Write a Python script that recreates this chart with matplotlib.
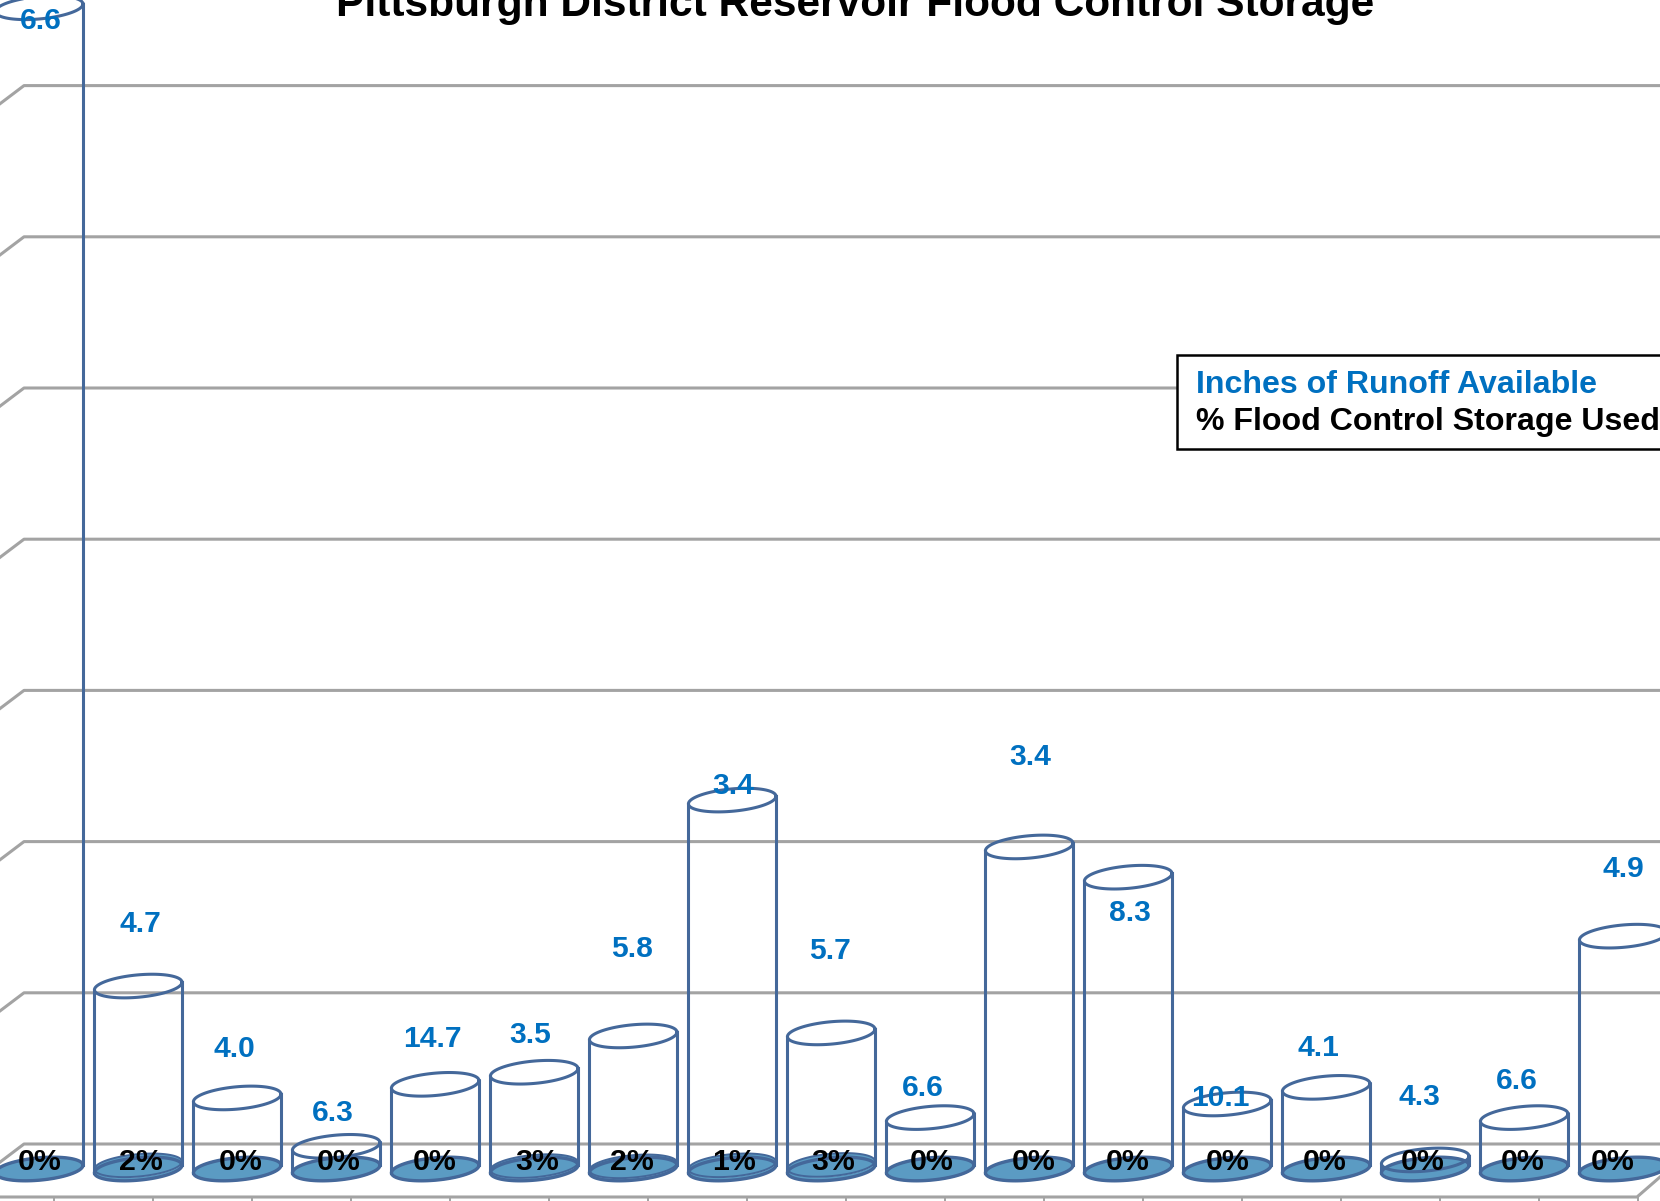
import numpy as np
import matplotlib.pyplot as plt
from matplotlib.patches import Rectangle

plt.rcParams['font.family'] = ['Liberation Sans', 'DejaVu Sans']

reservoirs = np.arange(1, 18)
# Storage capacity, in gridline steps (the axis labels are cut off in the picture)
capacity = [7.68, 1.21, 0.47, 0.15, 0.56, 0.64, 0.88, 2.44, 0.90, 0.34, 2.13, 1.93, 0.43, 0.54, 0.06, 0.34, 1.54]
# Percent of flood control storage used
pct_used = [0, 2, 0, 0, 0, 3, 2, 1, 3, 0, 0, 0, 0, 0, 0, 0, 0]
# Inches of runoff available
runoff = ['6.6', '4.7', '4.0', '6.3', '14.7', '3.5', '5.8', '3.4', '5.7', '6.6', '3.4', '8.3', '10.1', '4.1', '4.3', '6.6', '4.9']
grid_levels = np.arange(0, 8)

# Where the runoff labels were placed by hand on the original, in shown pixels
runoff_x = [39, 133, 221, 314, 408, 501, 597, 693, 784, 872, 973, 1067, 1153, 1245, 1341, 1433, 1533]
runoff_y = [18, 871, 989, 1049, 979, 976, 894, 740, 896, 1026, 713, 860, 1035, 988, 1034, 1019, 819]
pct_x = [37, 133, 227, 320, 411, 507, 597, 693, 787, 880, 976, 1065, 1160, 1251, 1344, 1438, 1523]

W, H = 1660, 1201
STEP_PX = 151.2
BASE_PX = 1169
SPACING_PX = 99.0
FIRST_PX = 39.2
SHOWN = W / 1568

LINE = '#44689A'
FILL = '#5B9BC3'
GRID = '#A3A3A3'
BLUE = '#0070C0'

fig = plt.figure(figsize=(W / 100, H / 100), dpi=100)
ax = fig.add_axes([0, 0, 1, 1])
ax.set_xlim(1 - FIRST_PX / SPACING_PX, 1 + (W - FIRST_PX) / SPACING_PX)
ax.set_ylim((BASE_PX - H) / STEP_PX, BASE_PX / STEP_PX)
ax.axis('off')


def px_x(p):
    return 1 + (p - FIRST_PX) / SPACING_PX


def px_y(p):
    return (BASE_PX - p) / STEP_PX


# back wall and side wall gridlines
back = px_y(1144)
for g in grid_levels:
    ax.plot([px_x(-2), px_x(24), px_x(W)], [back + g - 0.13, back + g, back + g], color=GRID, lw=2.2, zorder=1)

# floor front edge with ticks
front = px_y(1197)
ax.plot([px_x(0), px_x(1637), px_x(W)], [front, front, px_y(1177)], color=GRID, lw=2.2, zorder=1)
for k in reservoirs:
    ax.plot([k + 0.15, k + 0.15], [front, front - 0.04], color=GRID, lw=1.4, zorder=1)

# cylinders
RX = 0.442
RY = 0.074
TILT = 0.025
t = np.linspace(0, 2 * np.pi, 120)
for k, cap, pct in zip(reservoirs, capacity, pct_used):
    ex = k + RX * np.cos(t)
    ring = RY * np.sin(t) + TILT * np.cos(t)
    level = cap * pct / 100
    # water: base disc plus whatever is stored above it
    ax.fill_between(ex, ring + level, ring, color=FILL, lw=0, zorder=2)
    ax.fill(ex, ring + level, color=FILL, ec=LINE, lw=1.4, zorder=2.1)
    ax.plot(ex, ring, color=LINE, lw=2.4, zorder=2.2)
    # shell
    ax.plot([k - RX, k - RX], [-TILT, cap - TILT], color=LINE, lw=2.2, zorder=3)
    ax.plot([k + RX, k + RX], [TILT, cap + TILT], color=LINE, lw=2.2, zorder=3)
    ax.plot(ex, ring + cap, color=LINE, lw=2.2, zorder=3)

for k, label, x, y in zip(reservoirs, runoff, runoff_x, runoff_y):
    ax.text(px_x(x * SHOWN), px_y((y + 2) * SHOWN), label, color=BLUE, fontsize=21.6, fontweight='bold',
            ha='center', va='center', zorder=5)

for k, pct, x in zip(reservoirs, pct_used, pct_x):
    ax.text(px_x(x * SHOWN), px_y(1098 * SHOWN), f'{pct}%', color='black', fontsize=21.8, fontweight='bold',
            ha='center', va='center', zorder=5)

# the title is cut by the top edge on the original as well
ax.text(px_x(808 * SHOWN), px_y(5 * SHOWN), 'Pittsburgh District Reservoir Flood Control Storage',
        fontsize=30.6, fontweight='bold', ha='center', va='center', zorder=5)

# legend box, runs off the right edge
ax.add_patch(Rectangle((px_x(1112 * SHOWN), px_y(424 * SHOWN)), px_x(W + 20) - px_x(1112 * SHOWN),
                       px_y(335 * SHOWN) - px_y(424 * SHOWN), fc='white', ec='black', lw=1.8, zorder=4))
ax.text(px_x(1130 * SHOWN), px_y(364 * SHOWN), 'Inches of Runoff Available', color=BLUE, fontsize=23.1,
        fontweight='bold', ha='left', va='center', zorder=5)
ax.text(px_x(1130 * SHOWN), px_y(399 * SHOWN), '% Flood Control Storage Used', color='black', fontsize=23.1,
        fontweight='bold', ha='left', va='center', zorder=5)

fig.savefig('out.png', dpi=100)
